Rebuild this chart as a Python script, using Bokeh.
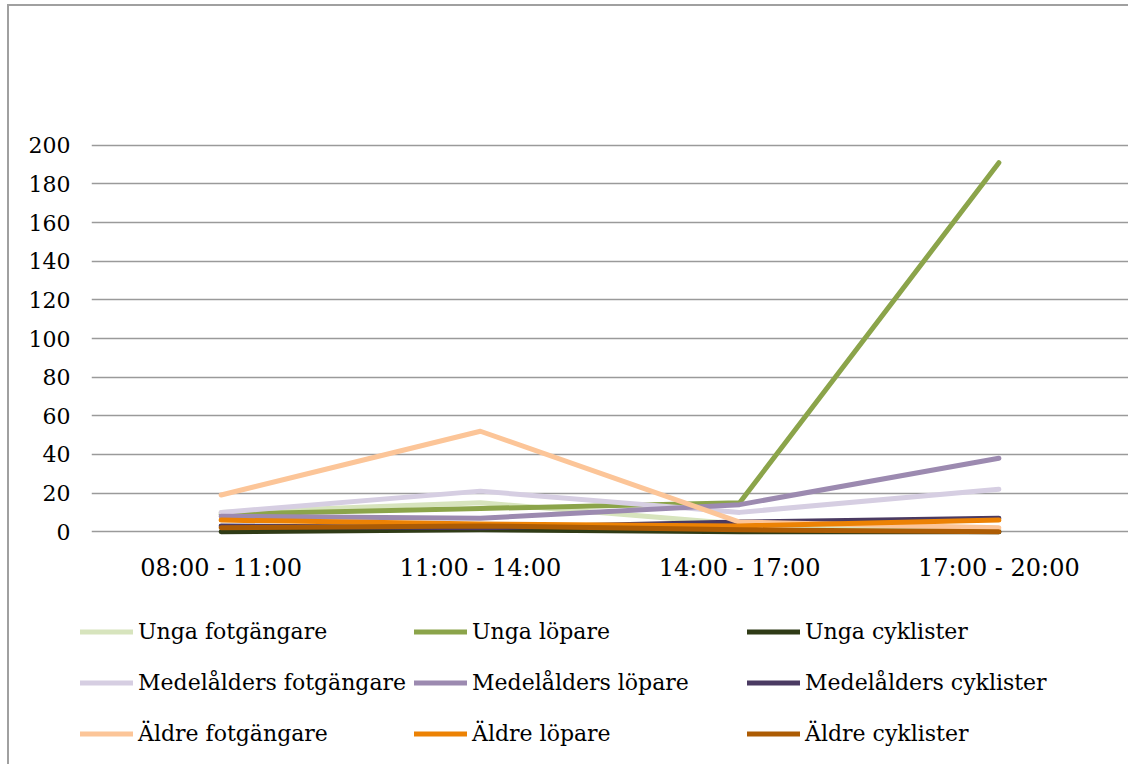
from bokeh.plotting import figure
from bokeh.layouts import column
from bokeh.models import FactorRange, Range1d, FixedTicker, Legend, LegendItem
from bokeh.embed import file_html
from bokeh.resources import INLINE

categories = ["08:00 - 11:00", "11:00 - 14:00", "14:00 - 17:00", "17:00 - 20:00"]
y_ticks = [0, 20, 40, 60, 80, 100, 120, 140, 160, 180, 200]

unga_fotgangare = [10, 15, 4, 1]
unga_lopare = [9, 12, 15, 191]
unga_cyklister = [0, 1, 0, 0]
medel_fotgangare = [10, 21, 10, 22]
medel_lopare = [8, 7, 14, 38]
medel_cyklister = [3, 2, 5, 7]
aldre_fotgangare = [19, 52, 5, 2]
aldre_lopare = [6, 4, 3, 6]
aldre_cyklister = [2, 3, 1, 0]

series = [
    ("Unga fotgängare", unga_fotgangare, "#D7E4BD"),
    ("Unga löpare", unga_lopare, "#8BA44A"),
    ("Unga cyklister", unga_cyklister, "#2F3B16"),
    ("Medelålders fotgängare", medel_fotgangare, "#D6CEE2"),
    ("Medelålders löpare", medel_lopare, "#9C8AB0"),
    ("Medelålders cyklister", medel_cyklister, "#4A3A62"),
    ("Äldre fotgängare", aldre_fotgangare, "#FCC598"),
    ("Äldre löpare", aldre_lopare, "#EC8204"),
    ("Äldre cyklister", aldre_cyklister, "#AD5C04"),
]

FONT = "DejaVu Serif"
W = 1119

p = figure(
    width=W, height=589,
    x_range=FactorRange(*categories),
    y_range=Range1d(-3, 203),
    output_backend="svg", toolbar_location=None,
    min_border_left=82, min_border_right=0, min_border_top=133, min_border_bottom=58,
)
p.frame_align = False
p.outline_line_color = None
p.background_fill_color = "white"
p.border_fill_color = "white"

p.xgrid.grid_line_color = None
p.ygrid.grid_line_color = "#9a9a9a"
p.ygrid.grid_line_width = 1.6
p.ygrid.ticker = FixedTicker(ticks=y_ticks)

p.yaxis.ticker = FixedTicker(ticks=y_ticks)
p.yaxis.axis_line_color = None
p.yaxis.major_tick_line_color = None
p.yaxis.minor_tick_line_color = None
p.yaxis.major_tick_out = 0
p.yaxis.major_tick_in = 0
p.yaxis.major_label_standoff = 21
p.yaxis.major_label_text_font = FONT
p.yaxis.major_label_text_font_size = "22px"
p.yaxis.major_label_text_color = "black"

p.xaxis.axis_line_color = None
p.xaxis.major_tick_line_color = None
p.xaxis.minor_tick_line_color = None
p.xaxis.major_tick_out = 0
p.xaxis.major_tick_in = 0
p.xaxis.major_label_standoff = 16
p.xaxis.major_label_text_font = FONT
p.xaxis.major_label_text_font_size = "24px"
p.xaxis.major_label_text_color = "black"

for name, vals, color in series:
    p.line(categories, vals, line_color=color, line_width=5,
           line_cap="round", line_join="round")

# legend panel (separate figure so the legend is not clipped by the plot frame)
lg = figure(
    width=W, height=169,
    x_range=FactorRange(*categories), y_range=Range1d(1000, 1001),
    x_axis_type=None, y_axis_type=None,
    output_backend="svg", toolbar_location=None,
    min_border_left=0, min_border_right=0, min_border_top=0, min_border_bottom=0,
)
lg.frame_align = False
lg.outline_line_color = None
lg.xgrid.grid_line_color = None
lg.ygrid.grid_line_color = None
lg.border_fill_color = "white"

renderers = {}
for name, vals, color in series:
    r = lg.line(categories, vals, line_color=color, line_width=5,
                line_cap="round", line_join="round")
    renderers[name] = r

# column-major order for a vertical legend with 3 rows
order = [0, 3, 6, 1, 4, 7, 2, 5, 8]
items = [LegendItem(label=series[i][0], renderers=[renderers[series[i][0]]]) for i in order]

legend = Legend(
    items=items, nrows=3, orientation="vertical",
    location=(71, 9),
    label_text_font=FONT, label_text_font_size="22px", label_text_color="black",
    glyph_width=53, glyph_height=43, label_standoff=5, label_width=267,
    spacing=8, padding=0, margin=0, border_line_color=None,
    background_fill_alpha=0,
)
lg.add_layout(legend, "center")

layout = column(p, lg, spacing=0)
layout.styles = {
    "margin-left": "7px", "margin-top": "4px",
    "border-left": "2px solid #a0a0a0", "border-top": "2px solid #a0a0a0",
}

open("out.html", "w").write(file_html(layout, INLINE))
